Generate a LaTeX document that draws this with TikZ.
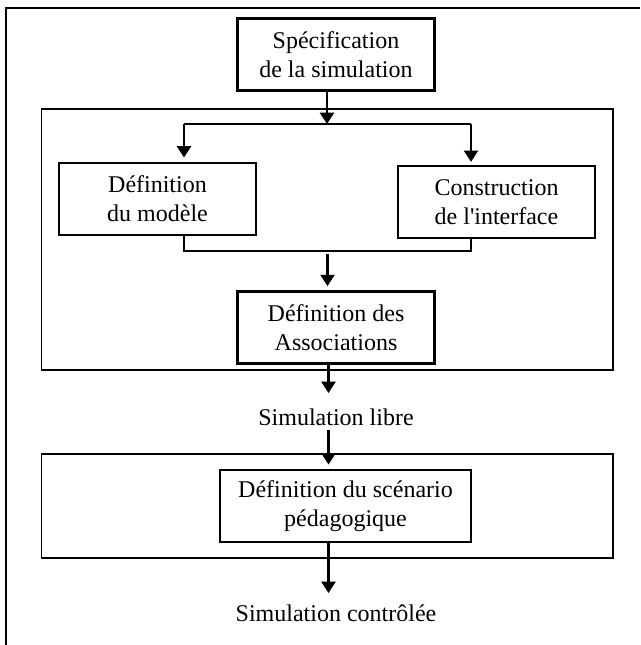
\documentclass[tikz,border=0pt]{standalone}
\usepackage{fontspec}
\setmainfont{Liberation Serif}[Ligatures=TeXOff]
\usetikzlibrary{arrows.meta}
\begin{document}
\begin{tikzpicture}[x=0.75pt,y=-0.75pt,
  box/.style={draw, line width=2.2pt, align=center, inner sep=0pt,
    minimum width=147.75pt, minimum height=54pt,
    font=\fontsize{18pt}{21.75pt}\selectfont},
  lbl/.style={inner sep=0pt, font=\fontsize{18pt}{21.75pt}\selectfont},
  conn/.style={line width=1.7pt},
  arr/.style={line width=1.7pt, -{Triangle[length=8.5pt,width=10.5pt]}},
  grp/.style={line width=0.9pt}]
\useasboundingbox (0,0) rectangle (640,645);
% outer frame (top and left sides only)
\draw[line width=1.6pt] (6,645) -- (6,8) -- (640,8);
% group frames
\draw[grp] (41.6,109) rectangle (613,370);
\draw[grp] (41.6,454) rectangle (613,558);
% boxes
\node[box, minimum height=54.4pt] (spec) at (336,54.5) {Spécification\\de la simulation};
\node[box] (modele) at (157.5,199) {Définition\\du modèle};
\node[box] (interf) at (496.5,202) {Construction\\de l'interface};
\node[box, minimum width=148pt, minimum height=53.6pt] (assoc) at (336,327.3) {Définition des\\Associations};
\node[box, minimum width=188.25pt] (scen) at (345.5,506) {Définition du scénario\\pédagogique};
\node[lbl] (libre) at (336,417) {Simulation libre};
\node[lbl] (ctrl) at (336,613) {Simulation contrôlée};
% junction coordinates
\coordinate (j1) at (327,124);
\coordinate (bl) at (184,124);
\coordinate (br) at (471,124);
\coordinate (jl) at (184,251);
\coordinate (jr) at (471,251);
\coordinate (j2) at (327.5,254);
\coordinate (a3) at (328.5,393);
\coordinate (b3) at (328.5,430);
\coordinate (c3) at (328.5,593);
% connectors
\draw[arr] (spec.south -| j1) -- (j1);
\draw[conn] (bl) -- (br);
\draw[arr, shorten >=3pt] (bl) -- (bl |- modele.north);
\draw[arr, shorten >=2pt] (br) -- (br |- interf.north);
\draw[conn] (modele.south -| jl) -- (jl) -- (jr) -- (interf.south -| jr);
\draw[arr, shorten >=3pt] (j2) -- (j2 |- assoc.north);
\draw[arr] (assoc.south -| a3) -- (a3);
\draw[arr, shorten >=3pt] (b3) -- (b3 |- scen.north);
\draw[arr] (scen.south -| c3) -- (c3);
\end{tikzpicture}
\end{document}
